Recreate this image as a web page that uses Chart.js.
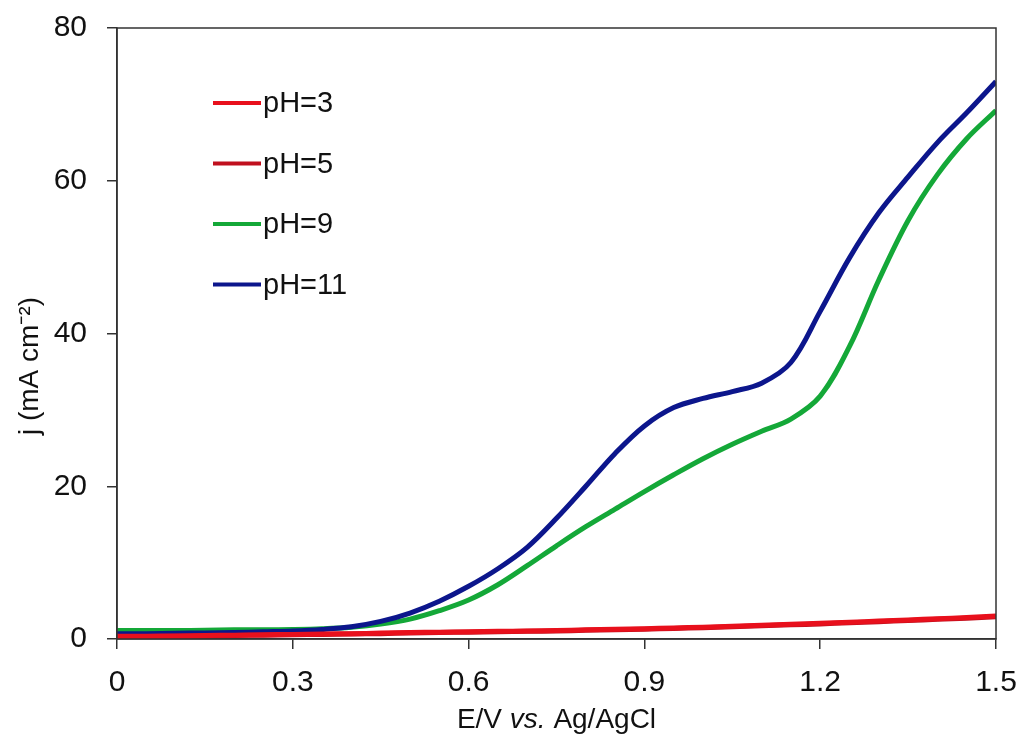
<!DOCTYPE html>
<html>
<head>
<meta charset="utf-8">
<script src="https://cdn.jsdelivr.net/npm/chart.js@4.4.1/dist/chart.umd.min.js"></script>
<style>
  html, body { margin: 0; padding: 0; background: #fff; }
  #wrap { width: 1027px; height: 742px; position: relative; }
</style>
</head>
<body>
<div id="wrap"><canvas id="lsv"></canvas></div>
<script>
// potential, V vs Ag/AgCl
const potential = [0, 0.05, 0.1, 0.15, 0.2, 0.25, 0.3, 0.35, 0.4, 0.45, 0.5, 0.55, 0.6, 0.65, 0.7, 0.75,
  0.8, 0.85, 0.9, 0.95, 1.0, 1.05, 1.1, 1.15, 1.2, 1.25, 1.3, 1.35, 1.4, 1.45, 1.5];

// current density, mA cm-2
const ph3 = [0.35, 0.37, 0.4, 0.45, 0.5, 0.55, 0.6, 0.65, 0.7, 0.77, 0.85, 0.9, 0.95, 1.0, 1.05, 1.12,
  1.2, 1.28, 1.35, 1.45, 1.55, 1.67, 1.8, 1.92, 2.05, 2.2, 2.35, 2.5, 2.65, 2.82, 3.0];
const ph5 = [0.3, 0.32, 0.35, 0.4, 0.45, 0.5, 0.55, 0.6, 0.65, 0.7, 0.78, 0.84, 0.9, 0.95, 1.0, 1.06,
  1.13, 1.2, 1.28, 1.38, 1.48, 1.6, 1.72, 1.85, 1.98, 2.12, 2.27, 2.42, 2.57, 2.72, 2.9];
const ph9 = [1.1, 1.1, 1.1, 1.15, 1.2, 1.2, 1.25, 1.35, 1.55, 1.95, 2.6, 3.7, 5.1, 7.1, 9.6, 12.2,
  14.7, 17.0, 19.3, 21.5, 23.6, 25.5, 27.2, 28.8, 31.8, 38.3, 47.0, 54.8, 60.8, 65.5, 69.2];
const ph11 = [0.7, 0.7, 0.75, 0.8, 0.85, 0.95, 1.05, 1.25, 1.6, 2.3, 3.4, 4.95, 6.9, 9.2, 12.0, 15.8,
  20.0, 24.3, 27.9, 30.3, 31.5, 32.4, 33.5, 36.2, 42.9, 49.9, 55.8, 60.5, 65.0, 68.9, 73.0];

const seriesNames = ['pH=3', 'pH=5', 'pH=9', 'pH=11'];
const seriesColors = ['#e8101c', '#c0101e', '#14a838', '#0c168c'];
const xTicks = [0, 0.3, 0.6, 0.9, 1.2, 1.5];
const yTicks = [0, 20, 40, 60, 80];

const toPoints = values => values.map((v, i) => ({ x: potential[i], y: v }));
const FONT = '"Liberation Sans", Arial, sans-serif';

// frame, titles and the in-plot legend
const decorations = {
  id: 'decorations',
  afterDraw(chart) {
    const { ctx, chartArea: a } = chart;
    ctx.save();
    ctx.strokeStyle = '#333';
    ctx.lineWidth = 1.5;
    ctx.strokeRect(a.left, a.top, a.right - a.left, a.bottom - a.top);

    // legend
    ctx.font = '29px ' + FONT;
    ctx.textBaseline = 'middle';
    ctx.lineWidth = 4;
    seriesNames.forEach((name, i) => {
      const y = 103 + i * 60.5;
      ctx.strokeStyle = seriesColors[i];
      ctx.beginPath();
      ctx.moveTo(213, y);
      ctx.lineTo(261, y);
      ctx.stroke();
      ctx.fillStyle = '#111';
      ctx.textAlign = 'left';
      ctx.fillText(name, 263, y + 1);
    });

    // x title with italic "vs."
    ctx.fillStyle = '#111';
    const parts = [['E/V ', '28px ' + FONT], ['vs.', 'italic 28px ' + FONT], [' Ag/AgCl', '28px ' + FONT]];
    let total = 0;
    parts.forEach(p => { ctx.font = p[1]; total += ctx.measureText(p[0]).width; });
    let x = (a.left + a.right) / 2 - total / 2;
    ctx.textAlign = 'left';
    parts.forEach(p => {
      ctx.font = p[1];
      ctx.fillText(p[0], x, 720);
      x += ctx.measureText(p[0]).width;
    });

    // y title
    ctx.translate(30, 366);
    ctx.rotate(-Math.PI / 2);
    ctx.textAlign = 'center';
    ctx.font = '28px ' + FONT;
    ctx.fillText('j (mA cm\u207B\u00B2)', 0, 0);
    ctx.restore();
  }
};

new Chart(document.getElementById('lsv').getContext('2d'), {
  type: 'line',
  data: {
    datasets: [ph3, ph5, ph9, ph11].map((vals, i) => ({
      label: seriesNames[i],
      data: toPoints(vals),
      borderColor: seriesColors[i],
      borderWidth: 5,
      pointRadius: 0,
      fill: false,
      tension: 0.35,
      order: [0, 1, 3, 2][i]
    }))
  },
  options: {
    responsive: true,
    maintainAspectRatio: false,
    animation: false,
    layout: { padding: { top: 28, right: 31, left: 0, bottom: 0 } },
    plugins: { legend: { display: false }, tooltip: { enabled: false } },
    scales: {
      x: {
        type: 'linear',
        min: 0,
        max: 1.5,
        afterBuildTicks: scale => { scale.ticks = xTicks.map(v => ({ value: v })); },
        afterFit: scale => {
          scale.height = 103;
          scale.paddingLeft = 0;
          scale.paddingRight = 0;
        },
        grid: { drawOnChartArea: false, drawTicks: true, tickLength: 10, color: '#333', lineWidth: 1.5 },
        border: { display: true, color: '#333', width: 1.5 },
        ticks: {
          padding: 16,
          color: '#111',
          font: { family: FONT, size: 30 },
          maxRotation: 0,
          callback: v => String(v)
        }
      },
      y: {
        min: 0,
        max: 80,
        afterBuildTicks: scale => { scale.ticks = yTicks.map(v => ({ value: v })); },
        afterFit: scale => {
          scale.width = 117;
          scale.paddingTop = 0;
          scale.paddingBottom = 0;
        },
        grid: { drawOnChartArea: false, drawTicks: true, tickLength: 10, color: '#333', lineWidth: 1.5 },
        border: { display: true, color: '#333', width: 1.5 },
        ticks: {
          padding: 20,
          color: '#111',
          font: { family: FONT, size: 30 }
        }
      }
    }
  },
  plugins: [decorations]
});
</script>
</body>
</html>
